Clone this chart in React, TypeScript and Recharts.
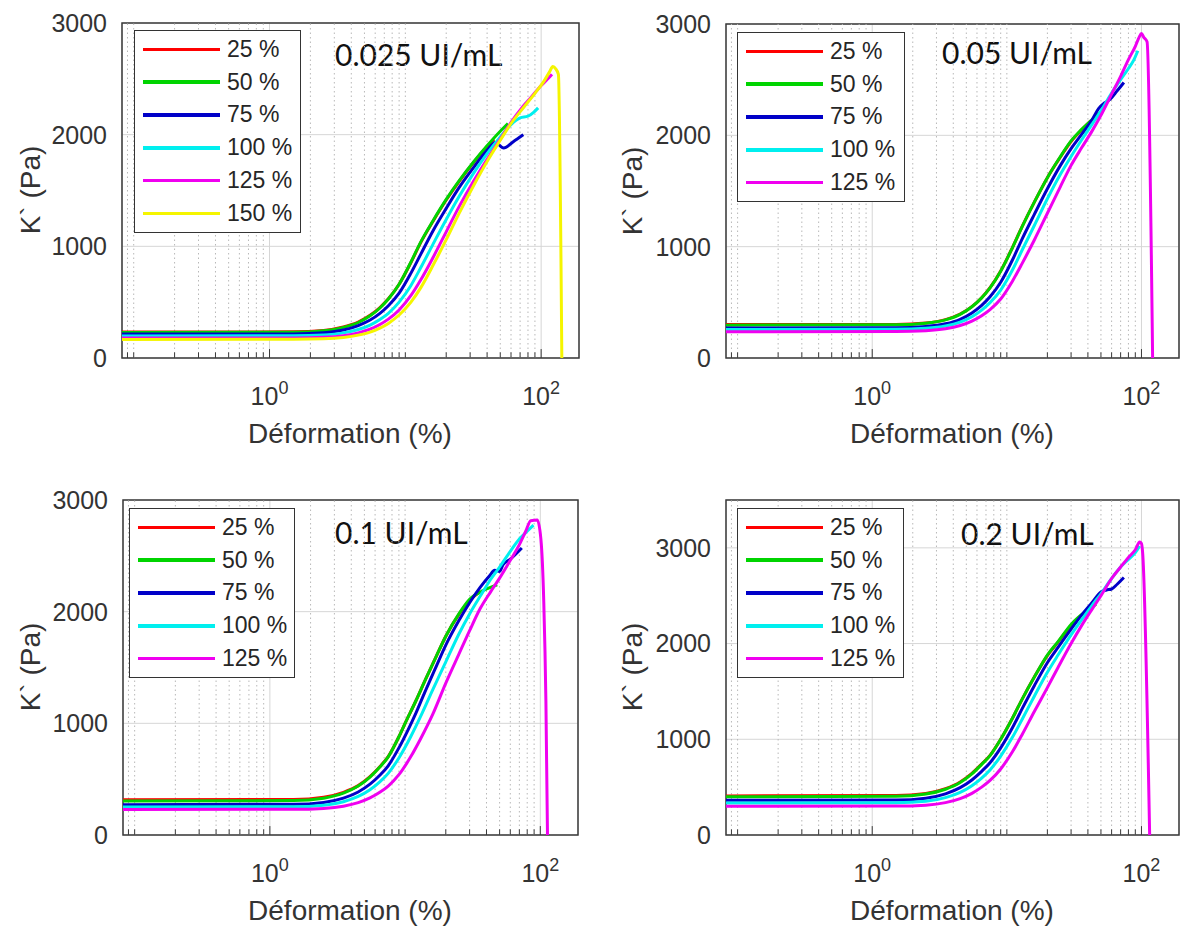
import { CartesianGrid, Legend, Line, LineChart, ReferenceArea, ReferenceLine, XAxis, YAxis } from "recharts";

const AXIS_FONT = '"Liberation Sans", Arial, Helvetica, sans-serif';
const TITLE_FONT = 'Lato, "Open Sans", sans-serif';
const INK = '#333333';

// axes
const strainDomain = [0.082, 190];
const strainMajor = [1, 100];
const strainMinor = [0.09, 0.1, 0.2, 0.3, 0.4, 0.5, 0.6, 0.7, 0.8, 0.9, 2, 3, 4, 5, 6, 7, 8, 9, 10, 20, 30, 40, 50, 60, 70, 80, 90];
const kTicks = [0, 1000, 2000, 3000];

const seriesNames = ['25 %', '50 %', '75 %', '100 %', '125 %', '150 %'];
const seriesColors = ['#ff0000', '#00d400', '#0000c8', '#00efef', '#f000f0', '#f5f500'];

// [déformation %, K' Pa] — 0.025 UI/mL
const p025_s25 = [[0.082, 232], [1.5, 234], [2.5, 247], [3.5, 278], [4.5, 322], [5.5, 382], [6.5, 452], [7.5, 530], [9, 660], [11, 855], [13, 1035], [16, 1225], [20, 1415], [25, 1585], [32, 1755], [40, 1895], [45, 1960]];
const p025_s50 = [[0.082, 228], [1.5, 230], [2.5, 244], [3.5, 274], [4.5, 318], [5.5, 378], [6.5, 448], [7.5, 528], [9, 660], [11, 860], [13, 1040], [16, 1230], [20, 1420], [25, 1590], [32, 1760], [40, 1900], [50, 2030], [57, 2100]];
const p025_s75 = [[0.082, 214], [1.5, 216], [2.5, 226], [3.5, 250], [4.5, 290], [5.5, 340], [6.5, 400], [7.5, 468], [9, 580], [11, 760], [13, 930], [16, 1140], [20, 1340], [25, 1530], [32, 1710], [40, 1860], [46, 1930], [53, 1880], [62, 1935], [74, 2000]];
const p025_s100 = [[0.082, 198], [1.5, 200], [2.5, 207], [3.5, 225], [4.5, 255], [5.5, 295], [6.5, 345], [7.5, 400], [9, 500], [11, 650], [13, 810], [16, 1020], [20, 1240], [25, 1450], [32, 1660], [40, 1830], [50, 1980], [60, 2090], [70, 2150], [80, 2165], [88, 2200], [95, 2240]];
const p025_s125 = [[0.082, 178], [1.5, 180], [2.5, 186], [3.5, 200], [4.5, 225], [5.5, 258], [6.5, 300], [7.5, 348], [9, 430], [11, 560], [13, 700], [16, 900], [20, 1130], [25, 1360], [32, 1590], [40, 1780], [50, 1960], [60, 2110], [72, 2240], [85, 2340], [100, 2440], [112, 2500], [120, 2540]];
const p025_s150 = [[0.082, 166], [1.5, 168], [2.5, 172], [3.5, 184], [4.5, 205], [5.5, 232], [6.5, 268], [7.5, 310], [9, 385], [11, 500], [13, 630], [16, 830], [20, 1060], [25, 1300], [32, 1550], [40, 1760], [50, 1950], [60, 2100], [75, 2250], [90, 2370], [105, 2480], [115, 2560], [122, 2610], [128, 2590], [134, 2540], [142, 0]];

// 0.05 UI/mL
const p05_s25 = [[0.082, 300], [1.5, 302], [2.5, 315], [3.5, 345], [4.5, 395], [5.5, 462], [6.5, 542], [7.5, 632], [9, 782], [11, 992], [13, 1182], [16, 1400], [20, 1620], [25, 1805], [30, 1945], [36, 2050], [42, 2130]];
const p05_s50 = [[0.082, 295], [1.5, 298], [2.5, 312], [3.5, 342], [4.5, 392], [5.5, 460], [6.5, 540], [7.5, 630], [9, 780], [11, 990], [13, 1180], [16, 1400], [20, 1620], [25, 1810], [30, 1950], [35, 2040], [42, 2130], [49, 2205]];
const p05_s75 = [[0.082, 270], [1.5, 272], [2.5, 283], [3.5, 307], [4.5, 348], [5.5, 405], [6.5, 473], [7.5, 550], [9, 680], [11, 880], [13, 1070], [16, 1290], [20, 1520], [25, 1730], [30, 1880], [36, 2010], [43, 2140], [48, 2240], [53, 2290], [58, 2320], [66, 2400], [74, 2475]];
const p05_s100 = [[0.082, 256], [1.5, 258], [2.5, 267], [3.5, 287], [4.5, 322], [5.5, 370], [6.5, 430], [7.5, 497], [9, 610], [11, 790], [13, 970], [16, 1190], [20, 1430], [25, 1650], [30, 1810], [36, 1960], [43, 2100], [50, 2220], [60, 2380], [70, 2500], [80, 2600], [88, 2680], [94, 2760]];
const p05_s125 = [[0.082, 236], [1.5, 238], [2.5, 245], [3.5, 262], [4.5, 292], [5.5, 332], [6.5, 380], [7.5, 435], [9, 530], [11, 690], [13, 850], [16, 1060], [20, 1300], [25, 1540], [30, 1730], [36, 1890], [43, 2040], [50, 2180], [60, 2370], [70, 2530], [80, 2680], [90, 2800], [96, 2880], [100, 2915], [104, 2880], [110, 2840], [121, 0]];

// 0.1 UI/mL
const p1_s25 = [[0.082, 315], [1.5, 318], [2.5, 338], [3.5, 382], [4.5, 442], [5.5, 522], [6.5, 612], [7.5, 702], [9, 880], [10, 1000], [12, 1200], [14, 1380], [17, 1600], [20, 1780], [25, 1975], [30, 2100], [36, 2180]];
const p1_s50 = [[0.082, 305], [1.5, 308], [2.5, 330], [3.5, 375], [4.5, 438], [5.5, 518], [6.5, 608], [7.5, 700], [9, 880], [10, 1000], [12, 1200], [14, 1380], [17, 1600], [20, 1780], [25, 1980], [30, 2110], [38, 2190], [48, 2240]];
const p1_s75 = [[0.082, 272], [1.5, 275], [2.5, 292], [3.5, 330], [4.5, 385], [5.5, 455], [6.5, 535], [7.5, 620], [9, 780], [10.5, 940], [12, 1090], [14, 1280], [17, 1510], [20, 1700], [25, 1920], [30, 2080], [36, 2220], [42, 2320], [46, 2370], [50, 2360], [53, 2420], [60, 2470], [73, 2570]];
const p1_s100 = [[0.082, 250], [1.5, 253], [2.5, 267], [3.5, 298], [4.5, 345], [5.5, 405], [6.5, 475], [7.5, 552], [9, 690], [11, 880], [13, 1060], [16, 1300], [20, 1550], [25, 1800], [30, 1980], [36, 2140], [43, 2290], [50, 2400], [60, 2540], [70, 2650], [80, 2720], [89, 2775]];
const p1_s125 = [[0.082, 228], [1.5, 230], [2.5, 238], [3.5, 258], [4.5, 290], [5.5, 332], [6.5, 382], [7.5, 438], [9, 540], [11, 700], [13, 860], [16, 1080], [20, 1360], [25, 1620], [30, 1830], [36, 2030], [43, 2180], [50, 2300], [60, 2460], [70, 2600], [78, 2720], [85, 2815], [95, 2820], [101, 2650], [106, 2100], [110, 1200], [113, 0]];

// 0.2 UI/mL
const p2_s25 = [[0.082, 408], [1.5, 412], [2.5, 434], [3.5, 484], [4.5, 554], [5.5, 644], [6.5, 742], [7.5, 832], [9, 1000], [11, 1220], [13, 1420], [16, 1650], [20, 1875], [24, 2015], [30, 2190], [36, 2300]];
const p2_s50 = [[0.082, 400], [1.5, 404], [2.5, 428], [3.5, 478], [4.5, 548], [5.5, 638], [6.5, 738], [7.5, 830], [9, 1000], [11, 1220], [13, 1420], [16, 1650], [20, 1880], [24, 2020], [30, 2200], [38, 2330], [46, 2410]];
const p2_s75 = [[0.082, 362], [1.5, 365], [2.5, 385], [3.5, 430], [4.5, 495], [5.5, 575], [6.5, 665], [7.5, 755], [9, 910], [11, 1120], [13, 1320], [16, 1560], [20, 1800], [24, 1960], [30, 2150], [36, 2300], [43, 2430], [50, 2540], [55, 2560], [60, 2570], [66, 2620], [74, 2690]];
const p2_s100 = [[0.082, 334], [1.5, 337], [2.5, 352], [3.5, 390], [4.5, 445], [5.5, 515], [6.5, 595], [7.5, 680], [9, 825], [11, 1020], [13, 1210], [16, 1450], [20, 1700], [24, 1880], [30, 2090], [36, 2250], [43, 2400], [50, 2520], [60, 2680], [70, 2800], [80, 2880], [90, 2950], [97, 3020]];
const p2_s125 = [[0.082, 300], [1.5, 302], [2.5, 312], [3.5, 338], [4.5, 380], [5.5, 435], [6.5, 500], [7.5, 570], [9, 690], [11, 870], [13, 1050], [16, 1290], [20, 1540], [24, 1750], [30, 2000], [36, 2190], [43, 2360], [50, 2500], [60, 2680], [70, 2800], [80, 2900], [90, 2980], [97, 3060], [100, 3045], [102, 2950], [115, 0]];

const toPoints = (pts: number[][]) => pts.map(([strain, k]) => ({ strain, k }));

const panels = [
	{
		title: '0.025 UI/mL', series: [p025_s25, p025_s50, p025_s75, p025_s100, p025_s125, p025_s150], kMax: 3000, tickLen: 50,
		left: 0, top: 0, width: 590, margin: { top: 23, right: 11, bottom: 45, left: 62 },
		legend: { left: 134, top: 30, width: 167 }, titleAt: [335, 66], yLabelAt: [40, 190], xLabelAt: [350, 443],
	},
	{
		title: '0.05 UI/mL', series: [p05_s25, p05_s50, p05_s75, p05_s100, p05_s125], kMax: 3000, tickLen: 50,
		left: 590, top: 0, width: 591, margin: { top: 24, right: 2, bottom: 45, left: 76 },
		legend: { left: 147, top: 32, width: 168 }, titleAt: [352, 64], yLabelAt: [52, 191], xLabelAt: [362, 443],
	},
	{
		title: '0.1 UI/mL', series: [p1_s25, p1_s50, p1_s75, p1_s100, p1_s125], kMax: 3000, tickLen: 50,
		left: 0, top: 463, width: 590, margin: { top: 37, right: 12, bottom: 31, left: 63 },
		legend: { left: 129, top: 45, width: 166 }, titleAt: [335, 81], yLabelAt: [40, 204], xLabelAt: [350, 457],
	},
	{
		title: '0.2 UI/mL', series: [p2_s25, p2_s50, p2_s75, p2_s100, p2_s125], kMax: 3500, tickLen: 58,
		left: 590, top: 463, width: 591, margin: { top: 37, right: 2, bottom: 31, left: 76 },
		legend: { left: 147, top: 45, width: 167 }, titleAt: [371, 82], yLabelAt: [52, 204], xLabelAt: [362, 457],
	},
];

const PowerTick = (props: any) => {
	const { x, y, payload } = props;
	const exp = Math.round(Math.log10(payload.value));
	return (
		<text x={x} y={y + 47} textAnchor="middle" fill={INK} fontFamily={AXIS_FONT} fontSize={25}>
			10<tspan dy={-11} fontSize={18}>{exp}</tspan>
		</text>
	);
};

const legendBox = (width: number) => (props: any) => {
	const items = [...(props.payload || [])].sort((a: any, b: any) => seriesNames.indexOf(a.value) - seriesNames.indexOf(b.value));
	return (
		<div style={{ width, boxSizing: 'border-box', border: `1.5px solid ${INK}`, background: '#fff', padding: '2px 0' }}>
			{items.map((entry: any) => (
				<div key={entry.value} style={{ display: 'flex', alignItems: 'center', height: 32.8 }}>
					<span style={{ display: 'inline-block', width: 77, height: 3.5, background: entry.color, marginLeft: 8, marginRight: 7 }} />
					<span style={{ fontFamily: AXIS_FONT, fontSize: 23, color: '#262626', lineHeight: 1 }}>{entry.value}</span>
				</div>
			))}
		</div>
	);
};

const Panel = ({ cfg }: { cfg: any }) => {
	return (
		<div style={{ position: 'absolute', left: cfg.left, top: cfg.top }}>
			<LineChart width={cfg.width} height={463} margin={cfg.margin}>
				<CartesianGrid stroke="#d6d6d6" />
				{strainMinor.map(v => (
					<ReferenceLine key={v} x={v} stroke="#b8b8b8" strokeDasharray="1.5 3" />
				))}
				{[...strainMinor, ...strainMajor].map(v => (
					<ReferenceLine key={`t${v}`} segment={[{ x: v, y: 0 }, { x: v, y: strainMajor.includes(v) ? cfg.tickLen * 1.6 : cfg.tickLen }]}
						stroke="#3a3a3a" strokeWidth={1} />
				))}
				<XAxis dataKey="strain" type="number" scale="log" domain={strainDomain} allowDataOverflow
					ticks={strainMajor} tick={<PowerTick />} tickLine={false} axisLine={false}
					tickSize={0} tickMargin={0} height={60} />
				<YAxis type="number" domain={[0, cfg.kMax]} allowDataOverflow ticks={kTicks}
					tick={{ fill: INK, fontSize: 25, fontFamily: AXIS_FONT }} tickLine={false} axisLine={false}
					tickSize={0} tickMargin={15} width={60} />
				{cfg.series.map((pts: number[][], i: number) => (
					<Line key={seriesNames[i]} data={toPoints(pts)} dataKey="k" name={seriesNames[i]}
						stroke={seriesColors[i]} strokeWidth={3} dot={false} type="monotone"
						isAnimationActive={false} />
				))}
				<ReferenceArea x1={strainDomain[0]} x2={strainDomain[1]} y1={0} y2={cfg.kMax}
					fill="none" stroke="#3a3a3a" strokeWidth={1.5} />
				<Legend layout="horizontal" verticalAlign="middle" align="center" itemSorter={null}
					wrapperStyle={{ left: cfg.legend.left, top: cfg.legend.top, width: cfg.legend.width, height: 'auto' }}
					content={legendBox(cfg.legend.width)} />
				<text x={cfg.titleAt[0]} y={cfg.titleAt[1]} fontFamily={TITLE_FONT} fontSize={30} fill="#111">{cfg.title}</text>
				<text x={cfg.yLabelAt[0]} y={cfg.yLabelAt[1]} transform={`rotate(-90 ${cfg.yLabelAt[0]} ${cfg.yLabelAt[1]})`}
					textAnchor="middle" fontFamily={AXIS_FONT} fontSize={28} fill={INK}>K` (Pa)</text>
				<text x={cfg.xLabelAt[0]} y={cfg.xLabelAt[1]} textAnchor="middle" fontFamily={AXIS_FONT} fontSize={28} fill={INK}>Déformation (%)</text>
			</LineChart>
		</div>
	);
};

export default function App() {
	return (
		<div style={{ position: 'absolute', left: 0, top: 0, width: 1181, height: 926, background: '#fff', overflow: 'hidden' }}>
			{panels.map(cfg => <Panel key={cfg.title} cfg={cfg} />)}
		</div>
	);
}
